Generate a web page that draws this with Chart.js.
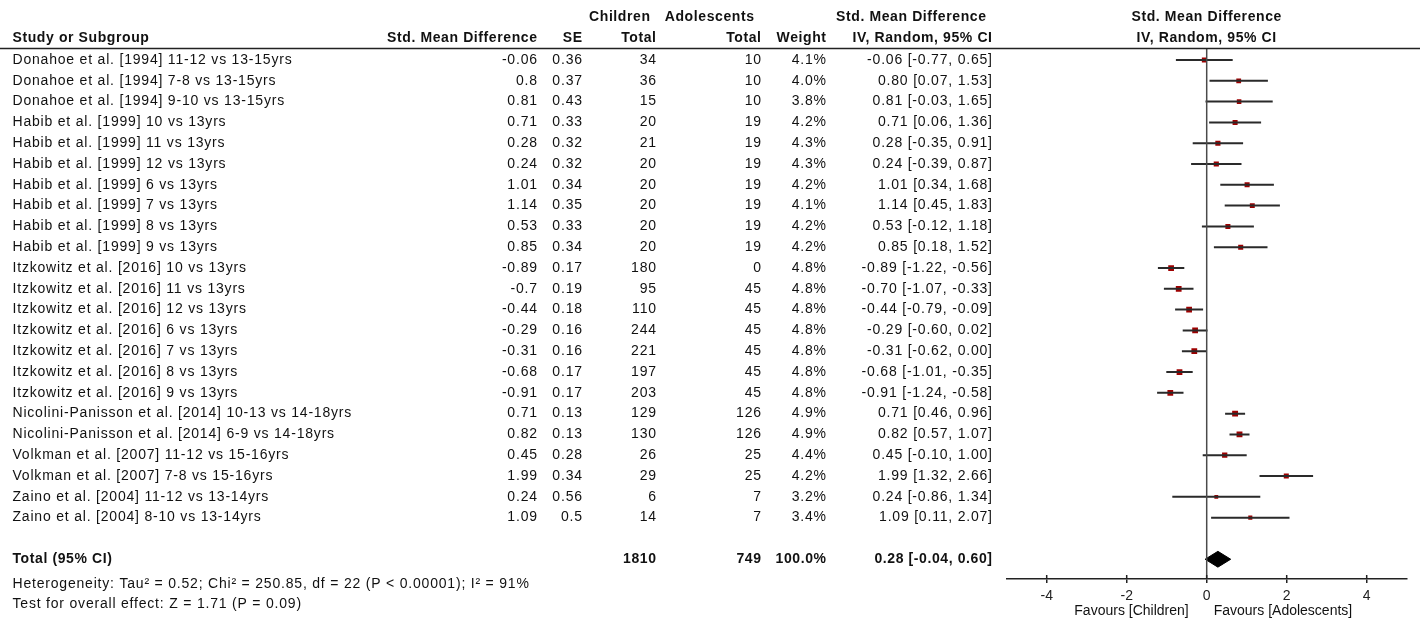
<!DOCTYPE html>
<html>
<head>
<meta charset="utf-8">
<script src="https://cdn.jsdelivr.net/npm/chart.js@4.4.1/dist/chart.umd.min.js"></script>
<style>
  html, body { margin: 0; padding: 0; background: #fff; }
  canvas { display: block; }
</style>
</head>
<body>
<canvas id="forest" width="1424" height="618"></canvas>
<script>
// ---- study data ----
const studies = [
  'Donahoe et al. [1994] 11-12 vs 13-15yrs',
  'Donahoe et al. [1994] 7-8 vs 13-15yrs',
  'Donahoe et al. [1994] 9-10 vs 13-15yrs',
  'Habib et al. [1999] 10 vs 13yrs',
  'Habib et al. [1999] 11 vs 13yrs',
  'Habib et al. [1999] 12 vs 13yrs',
  'Habib et al. [1999] 6 vs 13yrs',
  'Habib et al. [1999] 7 vs 13yrs',
  'Habib et al. [1999] 8 vs 13yrs',
  'Habib et al. [1999] 9 vs 13yrs',
  'Itzkowitz et al. [2016] 10 vs 13yrs',
  'Itzkowitz et al. [2016] 11 vs 13yrs',
  'Itzkowitz et al. [2016] 12 vs 13yrs',
  'Itzkowitz et al. [2016] 6 vs 13yrs',
  'Itzkowitz et al. [2016] 7 vs 13yrs',
  'Itzkowitz et al. [2016] 8 vs 13yrs',
  'Itzkowitz et al. [2016] 9 vs 13yrs',
  'Nicolini-Panisson et al. [2014] 10-13 vs 14-18yrs',
  'Nicolini-Panisson et al. [2014] 6-9 vs 14-18yrs',
  'Volkman et al. [2007] 11-12 vs 15-16yrs',
  'Volkman et al. [2007] 7-8 vs 15-16yrs',
  'Zaino et al. [2004] 11-12 vs 13-14yrs',
  'Zaino et al. [2004] 8-10 vs 13-14yrs'
];
const smd = [-0.06, 0.8, 0.81, 0.71, 0.28, 0.24, 1.01, 1.14, 0.53, 0.85,
             -0.89, -0.7, -0.44, -0.29, -0.31, -0.68, -0.91, 0.71, 0.82, 0.45, 1.99, 0.24, 1.09];
const se = [0.36, 0.37, 0.43, 0.33, 0.32, 0.32, 0.34, 0.35, 0.33, 0.34,
            0.17, 0.19, 0.18, 0.16, 0.16, 0.17, 0.17, 0.13, 0.13, 0.28, 0.34, 0.56, 0.5];
const childrenTotal = [34, 36, 15, 20, 21, 20, 20, 20, 20, 20,
                       180, 95, 110, 244, 221, 197, 203, 129, 130, 26, 29, 6, 14];
const adolescentsTotal = [10, 10, 10, 19, 19, 19, 19, 19, 19, 19,
                          0, 45, 45, 45, 45, 45, 45, 126, 126, 25, 25, 7, 7];
const weights = [4.1, 4.0, 3.8, 4.2, 4.3, 4.3, 4.2, 4.1, 4.2, 4.2,
                 4.8, 4.8, 4.8, 4.8, 4.8, 4.8, 4.8, 4.9, 4.9, 4.4, 4.2, 3.2, 3.4];
const ciLow = [-0.77, 0.07, -0.03, 0.06, -0.35, -0.39, 0.34, 0.45, -0.12, 0.18,
               -1.22, -1.07, -0.79, -0.60, -0.62, -1.01, -1.24, 0.46, 0.57, -0.10, 1.32, -0.86, 0.11];
const ciHigh = [0.65, 1.53, 1.65, 1.36, 0.91, 0.87, 1.68, 1.83, 1.18, 1.52,
                -0.56, -0.33, -0.09, 0.02, 0.00, -0.35, -0.58, 0.96, 1.07, 1.00, 2.66, 1.34, 2.07];

// pooled (random effects) result
const pooledTotals = [1810, 749];
const pooledWeight = [100.0];
const pooledEffect = [0.28, -0.04, 0.60];   // estimate, lower, upper
const heterogeneityText = 'Heterogeneity: Tau\u00B2 = 0.52; Chi\u00B2 = 250.85, df = 22 (P < 0.00001); I\u00B2 = 91%';
const overallText = 'Test for overall effect: Z = 1.71 (P = 0.09)';
const xTicks = [-4, -2, 0, 2, 4];
const favourLabels = ['Favours [Children]', 'Favours [Adolescents]'];

// ---- layout constants ----
const FONT = '"Liberation Sans", Arial, Helvetica, sans-serif';
const Y_MIN = -0.553;
const Y_MAX = 24.95;
const TOTAL_ROW = 24;
const HET_ROW = 25.2;
const TEST_ROW = 26.15;
const DIAMOND_HALF = 0.38;
const COL = { name: 12.5, smd: 537, se: 582, child: 656, adol: 761, weight: 826, ci: 992 };
const HEAD_Y1 = 17, HEAD_Y2 = 38;

const fmt2 = v => v.toFixed(2);

// ---- datasets built from the arrays ----
const whiskerData = [];
studies.forEach((_, i) => {
  whiskerData.push({ x: ciLow[i], y: i }, { x: ciHigh[i], y: i }, { x: null, y: null });
});
const pointData = smd.map((v, i) => ({ x: v, y: i }));
const diamondData = [
  { x: pooledEffect[1], y: TOTAL_ROW },
  { x: pooledEffect[0], y: TOTAL_ROW - DIAMOND_HALF },
  { x: pooledEffect[2], y: TOTAL_ROW },
  { x: pooledEffect[0], y: TOTAL_ROW + DIAMOND_HALF },
  { x: pooledEffect[1], y: TOTAL_ROW }
];

// table text, header rule and axis tick stubs
const forestTable = {
  id: 'forestTable',
  afterDraw(chart) {
    const { ctx, chartArea, scales } = chart;
    const xs = scales.x, ys = scales.y;
    ctx.save();

    // rule under the column headers
    ctx.strokeStyle = '#222';
    ctx.lineWidth = 1.5;
    ctx.beginPath();
    ctx.moveTo(0, chartArea.top);
    ctx.lineTo(1420, chartArea.top);
    ctx.stroke();

    // tick marks cross the axis line
    xs.ticks.forEach(t => {
      const px = xs.getPixelForValue(t.value);
      ctx.beginPath();
      ctx.moveTo(px, chartArea.bottom - 4);
      ctx.lineTo(px, chartArea.bottom);
      ctx.stroke();
    });

    ctx.fillStyle = '#111';
    ctx.textBaseline = 'middle';
    const txt = (s, x, y, align, bold, spacing) => {
      const ls = spacing === undefined ? (bold ? 0.6 : 0.8) : spacing;
      ctx.font = (bold ? 'bold ' : '') + '14px ' + FONT;
      ctx.letterSpacing = ls + 'px';
      ctx.textAlign = align;
      ctx.fillText(s, align === 'right' ? x + ls : x, y);
    };

    // headers
    const plotMid = (chartArea.left + chartArea.right) / 2;
    txt('Children', 650, HEAD_Y1, 'right', true);
    txt('Adolescents', 754, HEAD_Y1, 'right', true);
    txt('Std. Mean Difference', 986, HEAD_Y1, 'right', true);
    txt('Std. Mean Difference', plotMid, HEAD_Y1, 'center', true);
    txt('Study or Subgroup', COL.name, HEAD_Y2, 'left', true);
    txt('Std. Mean Difference', COL.smd, HEAD_Y2, 'right', true);
    txt('SE', COL.se, HEAD_Y2, 'right', true);
    txt('Total', COL.child, HEAD_Y2, 'right', true);
    txt('Total', COL.adol, HEAD_Y2, 'right', true);
    txt('Weight', COL.weight, HEAD_Y2, 'right', true);
    txt('IV, Random, 95% CI', COL.ci, HEAD_Y2, 'right', true);
    txt('IV, Random, 95% CI', plotMid, HEAD_Y2, 'center', true);

    // study rows
    studies.forEach((name, i) => {
      const py = ys.getPixelForValue(i);
      txt(name, COL.name, py, 'left', false);
      txt(String(smd[i]), COL.smd, py, 'right', false);
      txt(String(se[i]), COL.se, py, 'right', false);
      txt(String(childrenTotal[i]), COL.child, py, 'right', false);
      txt(String(adolescentsTotal[i]), COL.adol, py, 'right', false);
      txt(weights[i].toFixed(1) + '%', COL.weight, py, 'right', false);
      txt(fmt2(smd[i]) + ' [' + fmt2(ciLow[i]) + ', ' + fmt2(ciHigh[i]) + ']', COL.ci, py, 'right', false);
    });

    // pooled row
    const ty = ys.getPixelForValue(TOTAL_ROW);
    txt('Total (95% CI)', COL.name, ty, 'left', true);
    txt(String(pooledTotals[0]), COL.child, ty, 'right', true);
    txt(String(pooledTotals[1]), COL.adol, ty, 'right', true);
    txt(pooledWeight[0].toFixed(1) + '%', COL.weight, ty, 'right', true);
    txt(fmt2(pooledEffect[0]) + ' [' + fmt2(pooledEffect[1]) + ', ' + fmt2(pooledEffect[2]) + ']', COL.ci, ty, 'right', true);

    txt(heterogeneityText, COL.name, ys.getPixelForValue(HET_ROW), 'left', false);
    txt(overallText, COL.name, ys.getPixelForValue(TEST_ROW), 'left', false);

    // direction labels under the axis
    const zero = xs.getPixelForValue(0);
    txt(favourLabels[0], zero - 18, 611, 'right', false, 0);
    txt(favourLabels[1], zero + 7, 611, 'left', false, 0);

    ctx.restore();
  }
};

new Chart(document.getElementById('forest'), {
  type: 'scatter',
  data: {
    datasets: [
      { // line of no effect
        type: 'line',
        data: [{ x: 0, y: Y_MIN }, { x: 0, y: Y_MAX }],
        borderColor: '#4a4a4a', borderWidth: 1.5, pointRadius: 0, fill: false
      },
      { // confidence intervals
        type: 'line',
        data: whiskerData,
        borderColor: '#2a2a2a', borderWidth: 2, pointRadius: 0, spanGaps: false, fill: false
      },
      { // point estimates, box size by weight
        type: 'scatter',
        data: pointData,
        pointStyle: 'rect',
        backgroundColor: '#9e0000',
        borderWidth: 0,
        pointRadius: c => (weights[c.dataIndex] * 1.2) / Math.SQRT2,
        pointHoverRadius: c => (weights[c.dataIndex] * 1.2) / Math.SQRT2
      },
      { // pooled estimate diamond
        type: 'line',
        data: diamondData,
        borderColor: '#000', backgroundColor: '#000', borderWidth: 1,
        pointRadius: 0, fill: 'shape'
      }
    ]
  },
  options: {
    responsive: false,
    devicePixelRatio: 1,
    animation: false,
    events: [],
    layout: { padding: { left: 1006.7, right: 17.3, top: 48.5, bottom: 0 } },
    plugins: { legend: { display: false }, tooltip: { enabled: false } },
    scales: {
      x: {
        type: 'linear', position: 'bottom', min: -5, max: 5,
        afterBuildTicks: s => { s.ticks = xTicks.map(v => ({ value: v })); },
        afterFit: s => { s.height = 39; },
        grid: { display: true, drawOnChartArea: false, drawTicks: true, tickLength: 4, color: '#222', lineWidth: 1.5 },
        border: { display: true, color: '#222', width: 1.5 },
        ticks: {
          font: { family: FONT, size: 14 }, color: '#222', padding: 5,
          maxRotation: 0, autoSkip: false, callback: v => String(v)
        }
      },
      y: { type: 'linear', min: Y_MIN, max: Y_MAX, reverse: true, display: false }
    }
  },
  plugins: [forestTable]
});
</script>
</body>
</html>
